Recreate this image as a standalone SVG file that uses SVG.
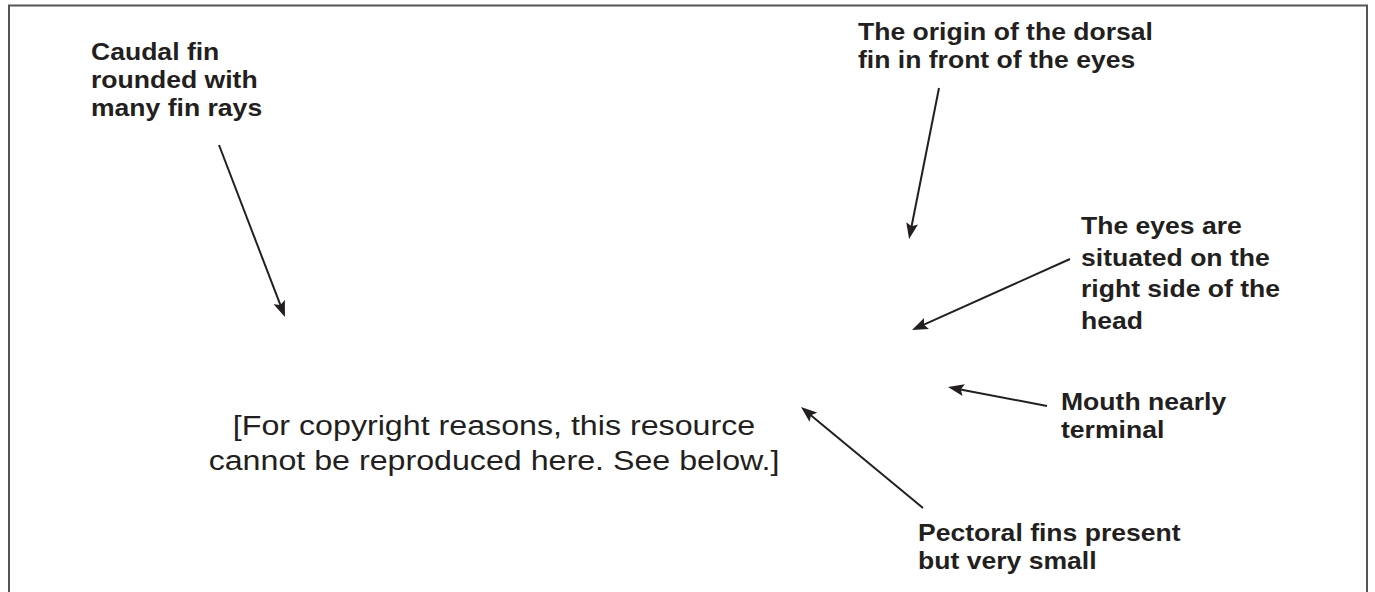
<svg xmlns="http://www.w3.org/2000/svg" width="1375" height="592" viewBox="0 0 1375 592">
<style>
.lbl{font-family:"Liberation Sans",Arial,sans-serif;font-weight:bold;font-size:23px;fill:#231f20}
.note{font-family:"Liberation Sans",Arial,sans-serif;font-size:28px;fill:#231f20;text-anchor:middle}
.arr{stroke:#231f20;stroke-width:2;fill:none;marker-end:url(#ah)}
</style>
<defs>
<marker id="ah" markerUnits="userSpaceOnUse" markerWidth="16" markerHeight="12" viewBox="0 0 16 12" refX="6" refY="6" orient="auto">
<path d="M0,0 L16,6 L0,12 L3,6 z" fill="#231f20"/>
</marker>
</defs>
<rect x="9" y="5.5" width="1358" height="600" fill="#fff" stroke="#555" stroke-width="2"/>
<g id="placeholder" transform="translate(494 0) scale(1.15 1)">
<text class="note" x="0" y="435">[For copyright reasons, this resource</text>
<text class="note" x="0" y="470">cannot be reproduced here. See below.]</text>
</g>
<g id="caudal" transform="translate(91 0) scale(1.155 1)">
<text class="lbl" x="0" y="60">Caudal fin</text>
<text class="lbl" x="0" y="88">rounded with</text>
<text class="lbl" x="0" y="116">many fin rays</text>
</g>
<g id="dorsal" transform="translate(858 0) scale(1.155 1)">
<text class="lbl" x="0" y="40">The origin of the dorsal</text>
<text class="lbl" x="0" y="68">fin in front of the eyes</text>
</g>
<g id="eyes" transform="translate(1081 0) scale(1.155 1)">
<text class="lbl" x="0" y="234">The eyes are</text>
<text class="lbl" x="0" y="266">situated on the</text>
<text class="lbl" x="0" y="297.5">right side of the</text>
<text class="lbl" x="0" y="329">head</text>
</g>
<g id="mouth" transform="translate(1061 0) scale(1.155 1)">
<text class="lbl" x="0" y="410">Mouth nearly</text>
<text class="lbl" x="0" y="438">terminal</text>
</g>
<g id="pectoral" transform="translate(918 0) scale(1.155 1)">
<text class="lbl" x="0" y="541">Pectoral fins present</text>
<text class="lbl" x="0" y="569">but very small</text>
</g>
<g id="connectors">
<line class="arr" x1="219" y1="145" x2="281.4" y2="307.7"/>
<line class="arr" x1="939" y1="88" x2="911" y2="229.2"/>
<line class="arr" x1="1070" y1="259" x2="921.1" y2="325.9"/>
<line class="arr" x1="1047" y1="406" x2="957.8" y2="388.9"/>
<line class="arr" x1="923" y1="508" x2="808.7" y2="413.4"/>
</g>
</svg>
